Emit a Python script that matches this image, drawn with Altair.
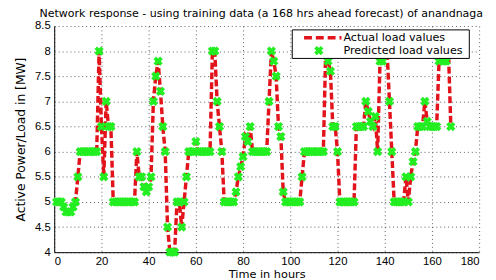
import altair as alt
import pandas as pd

hours = list(range(1, 169))
actual = [
    5.0, 5.0, 5.0, 4.9, 4.8, 4.8, 4.8, 4.9, 5.0, 5.5,
    6.0, 6.0, 6.0, 6.0, 6.0, 6.0, 6.0, 6.0, 8.0, 6.5,
    5.5, 7.0, 6.5, 6.5, 5.0, 5.0, 5.0, 5.0, 5.0, 5.0,
    5.0, 5.0, 5.0, 5.0, 6.0, 5.5, 5.5, 5.3, 5.2, 5.3,
    5.5, 7.0, 7.5, 7.8, 7.2, 6.5, 6.0, 4.5, 4.0, 4.0,
    4.0, 5.0, 5.0, 4.5, 5.0, 5.5, 6.0, 6.0, 6.0, 6.2,
    6.0, 6.0, 6.0, 6.0, 6.0, 6.0, 8.0, 8.0, 7.0, 6.5,
    6.0, 5.0, 5.0, 5.0, 5.0, 5.0, 5.2, 5.5, 5.7, 5.9,
    6.3, 6.2, 6.5, 6.0, 6.0, 6.0, 6.0, 6.0, 6.0, 6.0,
    7.0, 8.0, 7.8, 7.5, 6.5, 6.3, 5.2, 5.0, 5.0, 5.0,
    5.0, 5.0, 5.0, 5.0, 5.5, 6.0, 6.0, 6.0, 6.0, 6.0,
    6.0, 6.0, 6.0, 6.0, 8.0, 7.8, 7.6, 6.5, 6.5, 6.0,
    5.0, 5.0, 5.0, 5.0, 5.0, 5.0, 5.0, 6.5, 6.5, 6.5,
    6.5, 7.0, 6.8, 6.6, 6.5, 6.7, 6.0, 7.8, 7.8, 8.0,
    8.0, 7.0, 6.0, 5.0, 5.0, 5.0, 5.0, 5.0, 5.5, 5.0,
    5.5, 5.8, 6.0, 6.5, 6.5, 6.5, 7.0, 6.6, 6.5, 6.5,
    6.5, 6.5, 7.8, 8.0, 7.8, 7.8, 8.0, 6.5,
]
predicted = [
    5.0, 5.0, 5.0, 4.9, 4.8, 4.8, 4.8, 4.9, 5.0, 5.5,
    6.0, 6.0, 6.0, 6.0, 6.0, 6.0, 6.0, 6.0, 8.0, 6.5,
    5.5, 7.0, 6.5, 6.5, 5.0, 5.0, 5.0, 5.0, 5.0, 5.0,
    5.0, 5.0, 5.0, 5.0, 6.0, 5.5, 5.5, 5.3, 5.2, 5.3,
    5.5, 7.0, 7.5, 7.8, 7.2, 6.5, 6.0, 4.5, 4.0, 4.0,
    4.0, 5.0, 5.0, 4.5, 5.0, 5.5, 6.0, 6.0, 6.0, 6.2,
    6.0, 6.0, 6.0, 6.0, 6.0, 6.0, 8.0, 8.0, 7.0, 6.5,
    6.0, 5.0, 5.0, 5.0, 5.0, 5.0, 5.2, 5.5, 5.7, 5.9,
    6.3, 6.2, 6.5, 6.0, 6.0, 6.0, 6.0, 6.0, 6.0, 6.0,
    7.0, 8.0, 7.8, 7.5, 6.5, 6.3, 5.2, 5.0, 5.0, 5.0,
    5.0, 5.0, 5.0, 5.0, 5.5, 6.0, 6.0, 6.0, 6.0, 6.0,
    6.0, 6.0, 6.0, 6.0, 8.0, 7.8, 7.6, 6.5, 6.5, 6.0,
    5.0, 5.0, 5.0, 5.0, 5.0, 5.0, 5.0, 6.5, 6.5, 6.5,
    6.5, 7.0, 6.8, 6.6, 6.5, 6.7, 6.0, 7.8, 7.8, 8.0,
    8.0, 7.0, 6.0, 5.0, 5.0, 5.0, 5.0, 5.0, 5.5, 5.0,
    5.5, 5.8, 6.0, 6.5, 6.5, 6.5, 7.0, 6.6, 6.5, 6.5,
    6.5, 6.5, 7.8, 8.0, 7.8, 7.8, 8.0, 6.5,
]
x_ticks = [0, 20, 40, 60, 80, 100, 120, 140, 160, 180]
y_ticks = [4.0, 4.5, 5.0, 5.5, 6.0, 6.5, 7.0, 7.5, 8.0, 8.5]
title_text = "Network response - using training data (a 168 hrs ahead forecast) of anandnaga"
legend_labels = ["Actual load values", "Predicted load values"]

FONT = "DejaVu Sans"
LFONT = "Liberation Sans"
RED = "#e3131b"
GREEN = "#22ee22"

df = pd.DataFrame({"hour": hours, "actual": actual, "predicted": predicted})

xs = alt.Scale(domain=[0, 180], nice=False)
ys = alt.Scale(domain=[4, 8.5], nice=False)

xaxis = alt.Axis(values=x_ticks, title="Time in hours", format="d", titlePadding=1,
                 titleFontSize=11.5, labelOverlap=False, tickCount=10)
yaxis = alt.Axis(values=y_ticks, title="Active Power/Load in [MW]", format="~g", titlePadding=7,
                 titleFontSize=12.5, labelOverlap=False, tickCount=10)

line = alt.Chart(df).mark_line(color=RED, strokeWidth=3.5, strokeDash=[7, 3]).encode(
    x=alt.X("hour:Q", scale=xs, axis=xaxis),
    y=alt.Y("actual:Q", scale=ys, axis=yaxis),
)
pts = alt.Chart(df).mark_point(shape="cross", angle=45, filled=True, size=90, color=GREEN, opacity=1).encode(
    x=alt.X("hour:Q", scale=xs, axis=xaxis),
    y=alt.Y("predicted:Q", scale=ys, axis=yaxis),
)

one = pd.DataFrame({"k": [0]})
title_mark = alt.Chart(one).mark_text(align="left", baseline="alphabetic", font=FONT, fontSize=11.2,
                                      color="black", text=title_text).encode(
    x=alt.value(-15), y=alt.value(-9)
)
leg_box = alt.Chart(one).mark_rect(fill="white", stroke="black", strokeWidth=1).encode(
    x=alt.value(242), x2=alt.value(422), y=alt.value(4), y2=alt.value(33)
)
leg_line = alt.Chart(one).mark_rule(color=RED, strokeWidth=3.5, strokeDash=[8, 4]).encode(
    x=alt.value(254), x2=alt.value(292), y=alt.value(12)
)
leg_pt = alt.Chart(one).mark_point(shape="cross", angle=45, filled=True, size=90, color=GREEN, opacity=1).encode(
    x=alt.value(269), y=alt.value(25)
)
leg_t1 = alt.Chart(one).mark_text(align="left", baseline="middle", font=FONT, fontSize=11.3, color="black", text=legend_labels[0]).encode(
    x=alt.value(294), y=alt.value(12)
)
leg_t2 = alt.Chart(one).mark_text(align="left", baseline="middle", font=FONT, fontSize=11.3, color="black", text=legend_labels[1]).encode(
    x=alt.value(294), y=alt.value(25)
)

chart = alt.layer(line, pts, leg_box, leg_line, leg_pt, leg_t1, leg_t2, title_mark).properties(
    width=432,
    height=230,
    autosize=alt.AutoSizeParams(type="none"),
    padding={"left": 47, "top": 16, "right": 9, "bottom": 26},
).configure_view(strokeWidth=0).configure_axis(
    labelFont=LFONT, labelFontSize=11.5, labelColor="black",
    titleFont=FONT, titleFontWeight="normal", titleColor="black",
    domainColor="black", domainWidth=1, ticks=False, labelPadding=4,
    grid=True, gridColor="#333333", gridDash=[1, 3], gridOpacity=0.8, gridWidth=1,
)

chart.save("out.html", embed_options={"renderer": "svg", "actions": False})
